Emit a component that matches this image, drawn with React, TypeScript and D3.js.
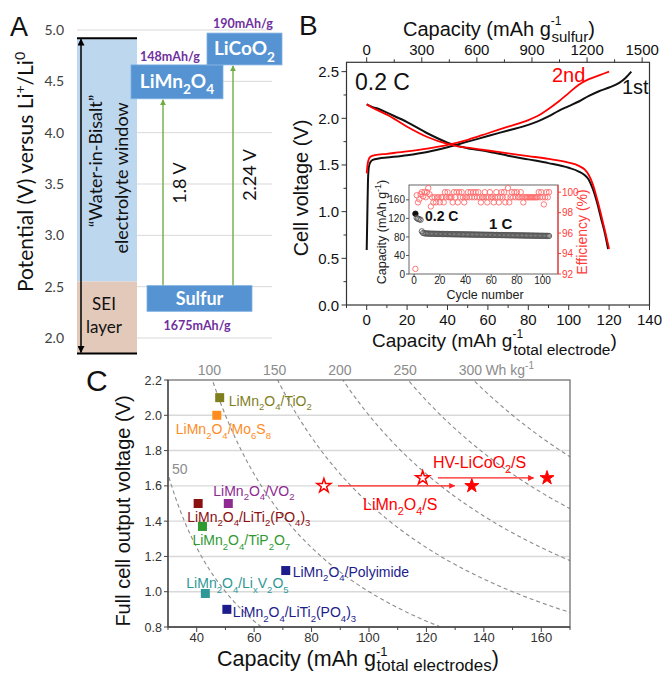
import * as d3 from 'd3';

const W = 662;
const H = 678;
const ARIAL = '"Liberation Sans", Arial, sans-serif';
const CAL = 'Lato, "Open Sans", sans-serif';

// ---------- panel A: potential window ----------
const aTicks = [2.0, 2.5, 3.0, 3.5, 4.0, 4.5, 5.0];
const windowTop = 4.92;
const seiTop = 2.55;
const windowBottom = 1.85;
const electrodeNames = ['LiMn2O4', 'LiCoO2', 'Sulfur'];
const electrodeHi = [4.66, 4.97, 2.51];
const electrodeLo = [4.33, 4.66, 2.26];
const electrodeCaps = ['148mAh/g', '190mAh/g', '1675mAh/g'];
const cellVoltages = ['1.8 V', '2.24 V'];

// ---------- panel B: voltage profiles ----------
const bTicksX = [0, 20, 40, 60, 80, 100, 120, 140];
const bTicksTop = [0, 300, 600, 900, 1200, 1500];
const bTicksY = [0, 0.5, 1.0, 1.5, 2.0, 2.5];
const sulfurPerTotal = 11;

const charge1 = [
  [0, 0.59], [0.3, 0.95], [0.6, 1.3], [1.0, 1.47], [1.8, 1.53], [3, 1.555], [6, 1.57], [10, 1.58],
  [20, 1.605], [30, 1.64], [40, 1.69], [50, 1.75], [60, 1.81], [70, 1.87], [80, 1.93], [85, 1.97],
  [90, 2.02], [95, 2.08], [100, 2.13], [105, 2.18], [110, 2.24], [115, 2.29], [120, 2.33],
  [125, 2.38], [128, 2.43], [131, 2.5],
];
const discharge1 = [
  [0, 2.15], [3, 2.12], [6, 2.1], [10, 2.06], [20, 1.96], [30, 1.84], [40, 1.74], [45, 1.705],
  [50, 1.68], [60, 1.645], [70, 1.6], [80, 1.56], [90, 1.52], [100, 1.47], [105, 1.43], [108, 1.39],
  [110, 1.34], [112, 1.24], [114, 1.1], [116, 0.93], [118, 0.76], [119.5, 0.6],
];
const charge2 = [
  [0, 1.41], [0.4, 1.5], [1, 1.56], [2, 1.59], [4, 1.605], [10, 1.62], [20, 1.645], [30, 1.675],
  [40, 1.715], [50, 1.77], [60, 1.84], [70, 1.91], [80, 1.98], [85, 2.03], [90, 2.1], [95, 2.18],
  [100, 2.27], [105, 2.36], [110, 2.42], [115, 2.46], [120, 2.5],
];
const discharge2 = [
  [0, 2.15], [3, 2.11], [6, 2.08], [10, 2.04], [20, 1.91], [30, 1.8], [40, 1.725], [45, 1.7],
  [50, 1.685], [60, 1.655], [70, 1.625], [80, 1.595], [90, 1.565], [100, 1.525], [105, 1.49],
  [108, 1.45], [110, 1.39], [112, 1.29], [114, 1.14], [116, 0.97], [118, 0.79], [120, 0.6],
];

// inset: cycling
const insetTicksX = [0, 20, 40, 60, 80, 100];
const insetTicksCap = [0, 40, 80, 120, 160];
const insetTicksEff = [92, 94, 96, 98, 100];
const cycCapacity = [
  130, 121, 119, 118, 117,
  92, 88.5, 87.8, 87.5, 87.3, 87.2, 87.0, 86.9, 86.9, 86.8,
  86.7, 86.6, 86.6, 86.5, 86.5, 86.4, 86.3, 86.3, 86.2, 86.2,
  86.1, 86.0, 86.0, 85.9, 85.9, 85.8, 85.8, 85.7, 85.7, 85.6,
  85.6, 85.5, 85.5, 85.4, 85.4, 85.3, 85.3, 85.2, 85.2, 85.1,
  85.1, 85.0, 85.0, 84.9, 84.9, 84.8, 84.8, 84.7, 84.7, 84.6,
  84.6, 84.5, 84.5, 84.4, 84.4, 84.3, 84.3, 84.2, 84.2, 84.1,
  84.1, 84.0, 84.0, 83.9, 83.9, 83.8, 83.8, 83.7, 83.7, 83.6,
  83.6, 83.5, 83.5, 83.4, 83.4, 83.3, 83.3, 83.2, 83.2, 83.1,
  83.1, 83.0, 83.0, 82.9, 82.9, 82.8, 82.8, 82.7, 82.7, 82.6,
  82.6, 82.5, 82.5, 82.4, 82.4, 82.3, 82.3, 82.2, 82.2, 82.1,
];
const cycEfficiency = [
  92.5, 99.7, 99.0, 99.3, 99.8, 100.0, 99.6, 100.0, 99.5, 100.0,
  100.4, 99.8, 98.6, 99.5, 99.0, 99.5, 99.0, 99.5, 99.5, 99.0,
  99.5, 99.5, 99.0, 100.0, 99.5, 100.0, 99.5, 99.5, 99.5, 99.0,
  100.0, 99.5, 100.0, 99.0, 100.0, 99.5, 100.0, 99.5, 99.0, 99.5,
  99.5, 100.0, 99.5, 100.0, 99.5, 100.0, 99.5, 100.0, 99.5, 100.0,
  99.5, 99.0, 99.5, 99.5, 100.0, 99.5, 99.0, 99.5, 100.0, 99.5,
  99.5, 99.0, 99.5, 100.0, 99.5, 99.0, 99.5, 100.0, 99.5, 100.0,
  99.0, 99.5, 100.4, 99.0, 99.5, 100.0, 99.5, 100.0, 99.5, 100.0,
  99.5, 99.5, 100.0, 99.5, 99.0, 99.5, 99.5, 99.5, 99.5, 99.5,
  99.5, 99.5, 99.5, 99.5, 99.5, 99.5, 100.0, 99.5, 100.0, 99.5,
  98.8, 99.5, 100.0, 99.5, 100.0,
];

// ---------- panel C: comparison of full cells ----------
const cTicksX = [40, 60, 80, 100, 120, 140, 160];
const cTicksY = [0.8, 1.0, 1.2, 1.4, 1.6, 1.8, 2.0, 2.2];
const cGridY = [1.0, 1.2, 1.4, 1.6, 1.8, 2.0];
const energyLevels = [50, 100, 150, 200, 250, 300];
const cellNames = [
  'LiMn2O4/TiO2', 'LiMn2O4/Mo6S8', 'LiMn2O4/VO2', 'LiMn2O4/LiTi2(PO4)3',
  'LiMn2O4/TiP2O7', 'LiMn2O4/Polyimide', 'LiMn2O4/Li_xV2O5', 'LiMn2O4/LiTi2(PO4)3',
];
const cellCapacity = [48, 47, 51, 40.5, 42, 71, 43, 50.5];
const cellVoltage = [2.1, 2.0, 1.5, 1.5, 1.37, 1.12, 0.99, 0.9];
const sulfurCells = ['LiMn2O4/S', 'HV-LiCoO2/S'];
const sulfurCapFirst = [84.3, 118.7];
const sulfurCapBest = [135.8, 162];
const sulfurVoltage = [1.6, 1.645];
const arrowFrom = [89.2, 124];
const arrowTo = [129.8, 157.3];

// styling / layout for panel C labels
const cellColor = ['#7f7f1e', '#ff8c1f', '#8e2a92', '#8b1010', '#2f9a2f', '#1c1c8c', '#2e9898', '#1c1c8c'];
const cellLabelOff = [[9, 8], [-41, 19], [-15, -8], [-11, 18], [-10, 19], [7, 6], [-19, -5], [6, 8]];

function chem(s: string, size: number, subScale = 0.68) {
  const segs: { t: string; sub: boolean }[] = [];
  for (let i = 0; i < s.length; i++) {
    let ch = s[i];
    let sub = false;
    if (ch === '_') {
      i++;
      ch = s[i];
      sub = true;
    } else if (/\d/.test(ch) && i > 0 && /[A-Za-z)]/.test(s[i - 1])) sub = true;
    const last = segs[segs.length - 1];
    if (last && last.sub === sub) last.t += ch;
    else segs.push({ t: ch, sub });
  }
  const off = size * 0.32;
  let cur = 0;
  return segs.map((g, k) => {
    const target = g.sub ? off : 0;
    const dy = target - cur;
    cur = target;
    return (
      <tspan key={k} dy={dy !== 0 ? dy : undefined} fontSize={g.sub ? size * subScale : size}>
        {g.t}
      </tspan>
    );
  });
}

function PanelA() {
  const y = d3.scaleLinear().domain([2.0, 5.0]).range([338, 30]);
  const boxX = [[131, 223], [207, 282], [147, 252]];
  const arrowX = [163, 233];
  const capPos = [[170, 61], [243, 28], [197, 330]];
  const voltPos = [[186, 183], [256, 175]];
  return (
    <g fontFamily={CAL}>
      {aTicks.map((t) => (
        <line key={t} x1={77} x2={272} y1={y(t)} y2={y(t)} stroke="#d9d9d9" strokeWidth={1} />
      ))}
      {aTicks.map((t) => (
        <text key={'l' + t} x={64} y={y(t) + 5} textAnchor="end" fontSize={14} fill="#404040">
          {t.toFixed(1)}
        </text>
      ))}
      <rect x={77} width={60} y={y(windowTop)} height={y(seiTop) - y(windowTop)} fill="#bdd7ee" />
      <rect x={77} width={60} y={y(seiTop)} height={y(windowBottom) - y(seiTop)} fill="#e3c9b9" />
      <line x1={77} x2={137} y1={y(windowTop)} y2={y(windowTop)} stroke="#000" strokeWidth={2} />
      <line x1={77} x2={137} y1={y(windowBottom)} y2={y(windowBottom)} stroke="#000" strokeWidth={2} />
      <line
        x1={81} x2={81} y1={y(windowTop) + 1} y2={y(windowBottom) - 1}
        stroke="#000" strokeWidth={1.5} markerStart="url(#ahBlack)" markerEnd="url(#ahBlack)"
      />
      <text transform="translate(102,161) rotate(-90)" textAnchor="middle" fontSize={18} fill="#111">
        “Water-in-Bisalt”
      </text>
      <text transform="translate(128,178) rotate(-90)" textAnchor="middle" fontSize={18} fill="#111">
        electrolyte window
      </text>
      <text x={104} y={310} textAnchor="middle" fontSize={17} fill="#111">SEI</text>
      <text x={104} y={333} textAnchor="middle" fontSize={17} fill="#111">layer</text>

      {cellVoltages.map((v, i) => (
        <g key={v}>
          <line
            x1={arrowX[i]} x2={arrowX[i]} y1={y(electrodeHi[2])} y2={y(electrodeLo[i]) + 1}
            stroke="#70ad47" strokeWidth={1.4} markerEnd="url(#ahGreen)"
          />
          <text
            transform={`translate(${voltPos[i][0]},${voltPos[i][1]}) rotate(-90)`}
            textAnchor="middle" fontSize={18} fill="#111"
          >
            {v}
          </text>
        </g>
      ))}

      {electrodeNames.map((n, i) => {
        const [x0, x1] = boxX[i];
        const top = y(electrodeHi[i]);
        const bot = y(electrodeLo[i]);
        return (
          <g key={n}>
            <rect x={x0} y={top} width={x1 - x0} height={bot - top} fill="#5593d3" stroke="#7fb0e0" strokeWidth={0.8} />
            <text
              x={(x0 + x1) / 2} y={(top + bot) / 2 + 6.5} textAnchor="middle"
              fontSize={n === 'Sulfur' ? 18 : 19} fontWeight="bold" fill="#fff"
            >
              {chem(n, n === 'Sulfur' ? 18 : 19, 0.72)}
            </text>
            <text x={capPos[i][0]} y={capPos[i][1]} textAnchor="middle" fontSize={12.5} fontWeight="bold" fill="#7030a0">
              {electrodeCaps[i]}
            </text>
          </g>
        );
      })}

      <text transform="translate(33,172) rotate(-90)" textAnchor="middle" fontSize={21} fill="#111">
        Potential (V) versus Li
        <tspan dy={-8} fontSize={14}>+</tspan>
        <tspan dy={8}>/Li</tspan>
        <tspan dy={-8} fontSize={14}>0</tspan>
      </text>
      <text x={10} y={36} fontFamily={ARIAL} fontSize={27} fill="#111">A</text>
    </g>
  );
}

function PanelB() {
  const x = d3.scaleLinear().domain([-10, 140]).range([346.5, 649.5]);
  const xs = d3.scaleLinear().domain([-10 * sulfurPerTotal, 140 * sulfurPerTotal]).range([346.5, 649.5]);
  const y = d3.scaleLinear().domain([0, 2.6]).range([305, 62.3]);
  const line = d3
    .line<number[]>()
    .x((d) => x(d[0]))
    .y((d) => y(d[1]))
    .curve(d3.curveMonotoneX);
  const [L, R] = x.range();
  const [B, T] = y.range();
  const minorX = d3.range(-10, 141, 10).filter((v) => !bTicksX.includes(v));
  const minorTop = d3.range(150, 1541, 300);
  const minorY = d3.range(0.25, 2.6, 0.5);

  // inset scales
  const xi = d3.scaleLinear().domain([-4, 112]).range([409, 558]);
  const yc = d3.scaleLinear().domain([0, 192]).range([274, 185]);
  const ye = d3.scaleLinear().domain([92, 100.7]).range([274, 185]);
  const cycles = cycCapacity.map((_, i) => i + 1);

  return (
    <g fontFamily={ARIAL}>
      {/* curves */}
      <path d={line(charge1) ?? ''} fill="none" stroke="#111" strokeWidth={2} />
      <path d={line(discharge1) ?? ''} fill="none" stroke="#111" strokeWidth={2} />
      <path d={line(charge2) ?? ''} fill="none" stroke="#ff0000" strokeWidth={1.8} />
      <path d={line(discharge2) ?? ''} fill="none" stroke="#ff0000" strokeWidth={1.8} />

      {/* frame + axes */}
      <rect x={L} y={T} width={R - L} height={B - T} fill="none" stroke="#333" strokeWidth={1.2} />
      {bTicksX.map((t) => (
        <g key={'bx' + t}>
          <line x1={x(t)} x2={x(t)} y1={B} y2={B + 5} stroke="#333" />
          <text x={x(t)} y={325} textAnchor="middle" fontSize={15} fill="#111">{t}</text>
        </g>
      ))}
      {minorX.map((t) => (
        <line key={'bmx' + t} x1={x(t)} x2={x(t)} y1={B} y2={B + 3} stroke="#333" />
      ))}
      {bTicksTop.map((t) => (
        <g key={'bt' + t}>
          <line x1={xs(t)} x2={xs(t)} y1={T} y2={T - 5} stroke="#333" />
          <text x={xs(t)} y={55} textAnchor="middle" fontSize={15} fill="#111">{t}</text>
        </g>
      ))}
      {minorTop.map((t) => (
        <line key={'bmt' + t} x1={xs(t)} x2={xs(t)} y1={T} y2={T - 3} stroke="#333" />
      ))}
      {bTicksY.map((t) => (
        <g key={'by' + t}>
          <line x1={L} x2={L - 5} y1={y(t)} y2={y(t)} stroke="#333" />
          <text x={339} y={y(t) + 5.5} textAnchor="end" fontSize={15} fill="#111">{t.toFixed(1)}</text>
        </g>
      ))}
      {minorY.map((t) => (
        <line key={'bmy' + t} x1={L} x2={L - 3} y1={y(t)} y2={y(t)} stroke="#333" />
      ))}

      <text x={372} y={347} fontSize={19} fill="#111">
        Capacity (mAh g
        <tspan dy={-9} fontSize={12}>-1</tspan>
        <tspan dx={-10} dy={17} fontSize={15.5}>total electrode</tspan>
        <tspan dy={-8} fontSize={19}>)</tspan>
      </text>
      <text x={403} y={36} fontSize={20} fill="#111">
        Capacity (mAh g
        <tspan dy={-11} fontSize={12}>-1</tspan>
        <tspan dx={-10} dy={17} fontSize={15}>sulfur</tspan>
        <tspan dy={-6} fontSize={20}>)</tspan>
      </text>
      <text transform="translate(308,188) rotate(-90)" textAnchor="middle" fontSize={20} fill="#111">
        Cell voltage (V)
      </text>
      <text x={355} y={90} fontSize={23} fill="#111">0.2 C</text>
      <text x={552} y={82} fontSize={20} fill="#ff0000">2nd</text>
      <text x={622} y={94} fontSize={20} fill="#111">1st</text>
      <text x={299} y={35} fontSize={28} fill="#111">B</text>

      {/* inset */}
      <rect x={409} y={185} width={149} height={89} fill="#fff" stroke="#666" strokeWidth={1} />
      <line x1={558} x2={558} y1={185} y2={274} stroke="#ff3b3b" strokeWidth={1.2} />
      {insetTicksX.map((t) => (
        <g key={'ix' + t}>
          <line x1={xi(t)} x2={xi(t)} y1={274} y2={277} stroke="#555" />
          <text x={xi(t)} y={284} textAnchor="middle" fontSize={10} fill="#222">{t}</text>
        </g>
      ))}
      {insetTicksCap.map((t) => (
        <g key={'ic' + t}>
          <line x1={409} x2={406} y1={yc(t)} y2={yc(t)} stroke="#555" />
          <text x={405} y={yc(t) + 3.6} textAnchor="end" fontSize={10} fill="#222">{t}</text>
        </g>
      ))}
      {insetTicksEff.map((t) => (
        <g key={'ie' + t}>
          <line x1={558} x2={561} y1={ye(t)} y2={ye(t)} stroke="#ff3b3b" />
          <text x={562} y={ye(t) + 3.6} fontSize={10} fill="#ff3b3b">{t}</text>
        </g>
      ))}
      {cycles.map((c, i) => (
        <circle
          key={'ce' + c} cx={xi(c)} cy={ye(cycEfficiency[i])} r={2.7}
          fill="none" stroke="#ff6b6b" strokeWidth={0.9}
        />
      ))}
      {cycles.map((c, i) => (
        <circle
          key={'cc' + c} cx={xi(c)} cy={yc(cycCapacity[i])} r={2.7}
          fill={i === 0 ? '#111' : 'none'} stroke={i === 0 ? '#111' : '#555'} strokeWidth={0.9}
        />
      ))}
      <text x={425} y={221} fontSize={14} fontWeight="bold" fill="#111">0.2 C</text>
      <text x={489} y={229} fontSize={15} fontWeight="bold" fill="#111">1 C</text>
      <text x={485} y={299} textAnchor="middle" fontSize={12.5} fill="#222">Cycle number</text>
      <text transform="translate(386,232) rotate(-90)" textAnchor="middle" fontSize={12.5} fill="#222">
        Capacity (mAh g<tspan dy={-5} fontSize={9}>-1</tspan><tspan dy={5}>)</tspan>
      </text>
      <text transform="translate(587,232) rotate(-90)" textAnchor="middle" fontSize={14} fill="#ff3b3b">
        Efficiency (%)
      </text>
    </g>
  );
}

function PanelC() {
  const x = d3.scaleLinear().domain([30, 170]).range([168, 570]);
  const y = d3.scaleLinear().domain([0.8, 2.2]).range([627, 380]);
  const [L, R] = x.range();
  const [B, T] = y.range();
  const voltSteps = d3.range(0.8, 2.2001, 0.02);
  const minorX = d3.range(30, 171, 10).filter((v) => !cTicksX.includes(v));
  const star = d3.symbol().type(d3.symbolStar).size(60)() ?? '';
  return (
    <g fontFamily={ARIAL}>
      <defs>
        <clipPath id="clipC">
          <rect x={L} y={T} width={R - L} height={B - T} />
        </clipPath>
      </defs>
      {cGridY.map((t) => (
        <line key={'g' + t} x1={L} x2={R} y1={y(t)} y2={y(t)} stroke="#d9d9d9" strokeWidth={1.4} />
      ))}
      <g clipPath="url(#clipC)">
        {energyLevels.map((e) => {
          const d = d3
            .line<number>()
            .x((v) => x(e / v))
            .y((v) => y(v))(voltSteps);
          return <path key={'e' + e} d={d ?? ''} fill="none" stroke="#8c8c8c" strokeWidth={1.1} strokeDasharray="4,3" />;
        })}
      </g>
      <rect x={L} y={T} width={R - L} height={B - T} fill="none" stroke="#666" strokeWidth={1.2} />
      <line x1={L} x2={L} y1={T} y2={B} stroke="#444" strokeWidth={1.3} />
      <line x1={L} x2={R} y1={B} y2={B} stroke="#444" strokeWidth={1.3} />

      {cTicksX.map((t) => (
        <g key={'cx' + t}>
          <line x1={x(t)} x2={x(t)} y1={B} y2={B + 5} stroke="#444" />
          <text x={x(t)} y={642} textAnchor="middle" fontSize={13} fill="#333">{t}</text>
        </g>
      ))}
      {minorX.map((t) => (
        <line key={'cmx' + t} x1={x(t)} x2={x(t)} y1={B} y2={B + 3} stroke="#444" />
      ))}
      {cTicksY.map((t) => (
        <g key={'cy' + t}>
          <line x1={L} x2={L - 4} y1={y(t)} y2={y(t)} stroke="#444" />
          <text x={162} y={y(t) + 4.5} textAnchor="end" fontSize={12.5} fill="#333">{t.toFixed(1)}</text>
        </g>
      ))}

      {energyLevels.slice(1).map((e) => (
        <text key={'el' + e} x={x(e / 2.2) - 3} y={375} textAnchor="middle" fontSize={14} fill="#8c8c8c">
          {e}
        </text>
      ))}
      <text x={x(300 / 2.2) + 12} y={375} fontSize={14} fill="#8c8c8c">
        Wh kg<tspan dy={-6} fontSize={10}>-1</tspan>
      </text>
      <text x={172} y={474} fontSize={14} fill="#8c8c8c">{energyLevels[0]}</text>

      {cellNames.map((n, i) => {
        const px = x(cellCapacity[i]);
        const py = y(cellVoltage[i]);
        return (
          <g key={'m' + i}>
            <rect x={px - 4.5} y={py - 4.5} width={9} height={9} fill={cellColor[i]} />
            <text x={px + cellLabelOff[i][0]} y={py + cellLabelOff[i][1]} fontSize={14} fill={cellColor[i]}>
              {chem(n, 14)}
            </text>
          </g>
        );
      })}

      {sulfurCells.map((n, i) => (
        <g key={'s' + i}>
          <line
            x1={x(arrowFrom[i])} x2={x(arrowTo[i])} y1={y(sulfurVoltage[i])} y2={y(sulfurVoltage[i])}
            stroke="#ff2020" strokeWidth={1.2} markerEnd="url(#ahRed)"
          />
          <path d={star} transform={`translate(${x(sulfurCapFirst[i])},${y(sulfurVoltage[i])})`} fill="#fff" stroke="#ff0000" strokeWidth={1.5} />
          <path d={star} transform={`translate(${x(sulfurCapBest[i])},${y(sulfurVoltage[i])})`} fill="#ff0000" stroke="#ff0000" strokeWidth={1} />
        </g>
      ))}
      <text x={363} y={510} fontSize={16} fill="#ff0000">{chem(sulfurCells[0], 16)}</text>
      <text x={433} y={468} fontSize={16} fill="#ff0000">{chem(sulfurCells[1], 16)}</text>

      <text transform="translate(130,511) rotate(-90)" textAnchor="middle" fontSize={20} fill="#111">
        Full cell output voltage (V)
      </text>
      <text x={217} y={666} fontSize={21.5} fill="#111">
        Capacity (mAh g
        <tspan dy={-10} fontSize={13}>-1</tspan>
        <tspan dx={-11} dy={15} fontSize={17}>total electrodes</tspan>
        <tspan dy={-5} fontSize={21.5}>)</tspan>
      </text>
      <text x={86} y={391} fontSize={30} fill="#111">C</text>
    </g>
  );
}

export default function App() {
  return (
    <svg
      width={W}
      height={H}
      viewBox={`0 0 ${W} ${H}`}
      style={{ position: 'absolute', left: 0, top: 0, background: '#fff' }}
    >
      <defs>
        <marker id="ahGreen" viewBox="0 0 10 10" refX="9" refY="5" markerUnits="userSpaceOnUse" markerWidth="6" markerHeight="6" orient="auto">
          <path d="M0,0 L10,5 L0,10 z" fill="#70ad47" />
        </marker>
        <marker id="ahBlack" viewBox="0 0 10 10" refX="9" refY="5" markerUnits="userSpaceOnUse" markerWidth="7" markerHeight="7" orient="auto-start-reverse">
          <path d="M0,0 L10,5 L0,10 z" fill="#000" />
        </marker>
        <marker id="ahRed" viewBox="0 0 10 10" refX="9" refY="5" markerUnits="userSpaceOnUse" markerWidth="7" markerHeight="6" orient="auto">
          <path d="M0,0 L10,5 L0,10 z" fill="#ff2020" />
        </marker>
      </defs>
      <rect width={W} height={H} fill="#fff" />
      <PanelA />
      <PanelB />
      <PanelC />
    </svg>
  );
}
